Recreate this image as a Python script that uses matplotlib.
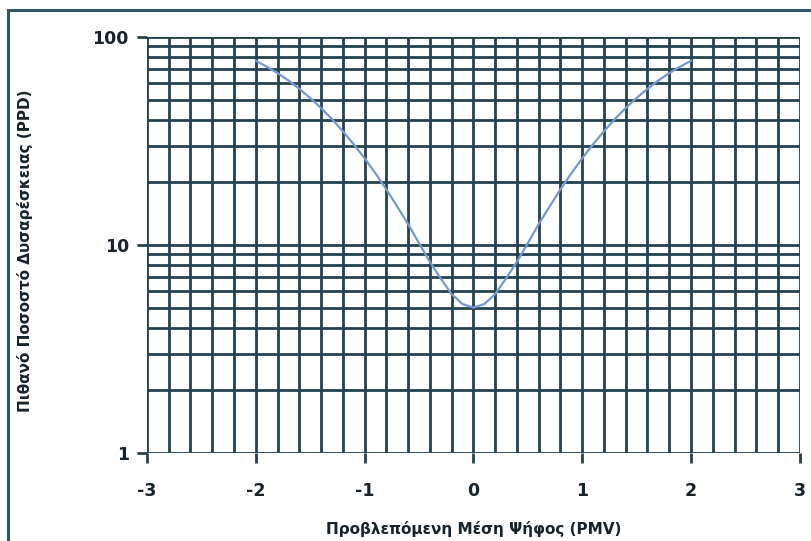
import numpy as np
import matplotlib.pyplot as plt
from matplotlib.patches import Rectangle
from matplotlib.ticker import FixedLocator, NullFormatter

plt.rcParams['font.family'] = ['DejaVu Sans']

# PMV vs PPD values
pmv = [-2.0, -1.9, -1.8, -1.7, -1.6, -1.5, -1.4, -1.3, -1.2, -1.1, -1.0,
       -0.9, -0.8, -0.7, -0.6, -0.5, -0.4, -0.3, -0.2, -0.1, 0.0,
       0.1, 0.2, 0.3, 0.4, 0.5, 0.6, 0.7, 0.8, 0.9, 1.0,
       1.1, 1.2, 1.3, 1.4, 1.5, 1.6, 1.7, 1.8, 1.9, 2.0]
ppd = [76.8, 72.0, 67.0, 61.8, 56.3, 50.9, 45.5, 40.3, 35.2, 30.5, 26.1,
       22.1, 18.5, 15.3, 12.6, 10.2, 8.3, 6.9, 5.8, 5.2, 5.0,
       5.2, 5.8, 6.9, 8.3, 10.2, 12.6, 15.3, 18.5, 22.1, 26.1,
       30.5, 35.2, 40.3, 45.5, 50.9, 56.3, 61.8, 67.0, 72.0, 76.8]

x_ticks = [-3, -2, -1, 0, 1, 2, 3]
y_ticks = [1, 10, 100]
y_labels = ['1', '10', '100']

grid_col = '#24414f'
text_col = '#16232b'

fig = plt.figure(figsize=(8.12, 5.41), dpi=100)
ax = fig.add_axes([0.181, 0.1627, 0.804, 0.769])

# grid: every 0.2 in PMV, log minors in PPD
xg = np.round(np.arange(-3, 3.01, 0.2), 2)
for xv in xg:
    ax.axvline(xv, color=grid_col, lw=2, zorder=1)
yg = [v * d for d in (1, 10) for v in range(1, 10)] + [100]
for yv in yg:
    ax.axhline(yv, color=grid_col, lw=2, zorder=1)

ax.plot(pmv, ppd, color='#7499d2', lw=1.6, zorder=3)

ax.set_yscale('log')
ax.set_xlim(-3, 3)
ax.set_ylim(1, 100)
ax.set_xticks(x_ticks)
ax.set_xticklabels([str(v) for v in x_ticks])
ax.set_yticks(y_ticks)
ax.set_yticklabels(y_labels)
ax.yaxis.set_minor_locator(FixedLocator([]))
ax.yaxis.set_minor_formatter(NullFormatter())
for s in ax.spines.values():
    s.set_visible(False)
ax.tick_params(axis='both', length=7, width=2, color=grid_col, labelsize=12.5)
ax.tick_params(axis='x', pad=14)
ax.tick_params(axis='y', pad=6)
for lab in ax.get_xticklabels() + ax.get_yticklabels():
    lab.set_fontweight('bold')
    lab.set_color(text_col)

ax.set_xlabel('Προβλεπόμενη Μέση Ψήφος (PMV)', fontsize=11, fontweight='bold',
              color=text_col)
ax.xaxis.set_label_coords(0.5, -0.163)
ax.set_ylabel('Πιθανό Ποσοστό Δυσαρέσκειας (PPD)', fontsize=11, fontweight='bold',
              color=text_col)
ax.yaxis.set_label_coords(-0.175, 0.486)

# outer frame of the original picture
fig.patches.append(Rectangle((8 / 812, -0.05), 1.1, 1 - 10 / 541 + 0.05,
                             transform=fig.transFigure, fill=False,
                             edgecolor='#34515f', lw=2.2))

fig.savefig('out.png', dpi=100)
